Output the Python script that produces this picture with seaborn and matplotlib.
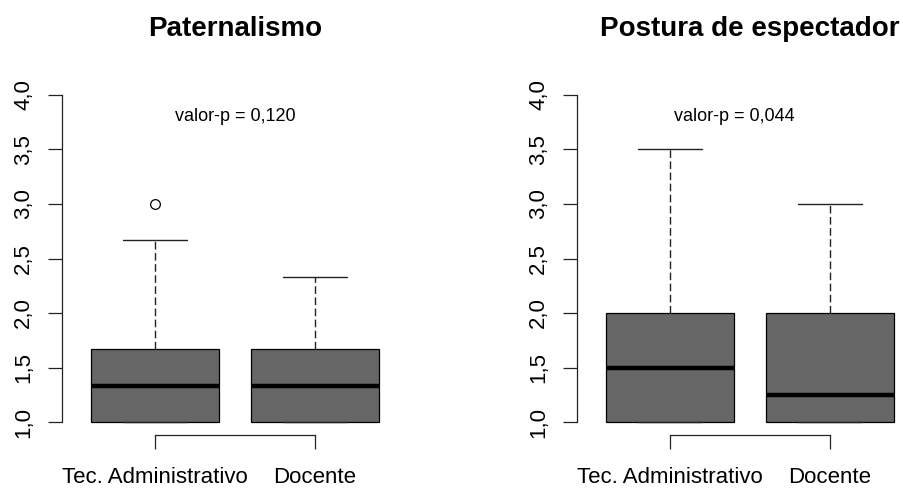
import matplotlib
matplotlib.use('Agg')
import matplotlib.pyplot as plt
import pandas as pd
import seaborn as sns

# grupos comparados
grupos = ['Tec. Administrativo', 'Docente']

# valores (escala 1 a 4)
pat_tec = [1.0, 1.0, 1.0, 1.333, 1.333, 1.667, 1.667, 2.667, 3.0]
pat_doc = [1.0, 1.0, 1.0, 1.333, 1.333, 1.667, 1.667, 2.0, 2.333]
esp_tec = [1.0, 1.0, 1.0, 1.25, 1.5, 1.75, 2.0, 2.5, 3.5]
esp_doc = [1.0, 1.0, 1.0, 1.0, 1.25, 1.5, 2.0, 2.5, 3.0]

titulos = ['Paternalismo', 'Postura de espectador']
pvalores = ['valor-p = 0,120', 'valor-p = 0,044']
pval_x = [0.5, 0.4]
pval_y = 3.8
yticks = [1.0, 1.5, 2.0, 2.5, 3.0, 3.5, 4.0]
ylabels = [f'{v:.1f}'.replace('.', ',') for v in yticks]


def montar(tec, doc):
    return pd.DataFrame({
        'grupo': [grupos[0]] * len(tec) + [grupos[1]] * len(doc),
        'valor': tec + doc,
    })


sns.set_style('white')
plt.rcParams['font.family'] = ['Liberation Sans', 'DejaVu Sans']
plt.rcParams['text.color'] = 'black'

fig = plt.figure(figsize=(9.04, 4.88), dpi=100)
W, H = 904, 488
bottom = 1 - 435.1 / H
height = 353.2 / H
ax1 = fig.add_axes([62 / W, bottom, 346 / W, height])
ax2 = fig.add_axes([577 / W, bottom, 346 / W, height])

dados = [montar(pat_tec, pat_doc), montar(esp_tec, esp_doc)]

for ax, df, tit, pv, px in zip([ax1, ax2], dados, titulos, pvalores, pval_x):
    sns.boxplot(data=df, x='grupo', y='valor', order=grupos, ax=ax,
                color='#666666', saturation=1, linecolor='black',
                linewidth=0.9, width=0.8, whis=1.5, capwidths=0.4,
                medianprops=dict(color='black', linewidth=3.2),
                whiskerprops=dict(color='#222222', linestyle=(0, (5.5, 2.5)),
                                  linewidth=1.0),
                capprops=dict(color='#222222', linewidth=1.0),
                flierprops=dict(marker='o', markerfacecolor='none',
                                markeredgecolor='black', markersize=7,
                                markeredgewidth=0.9))
    ax.set_xlim(-0.58, 1.58)
    ax.set_ylim(0.88, 4.12)
    ax.set_xlabel('')
    ax.set_ylabel('')
    ax.set_yticks(yticks)
    ax.set_yticklabels(ylabels, rotation=90, va='center')
    for s in ['top', 'right']:
        ax.spines[s].set_visible(False)
    ax.spines['left'].set_bounds(1.0, 4.0)
    ax.spines['bottom'].set_bounds(0, 1)
    for s in ['left', 'bottom']:
        ax.spines[s].set_color('#222222')
        ax.spines[s].set_linewidth(0.9)
    ax.tick_params(axis='both', direction='out', length=10, width=0.9,
                   bottom=True, left=True,
                   color='#222222', labelsize=16, labelcolor='black')
    ax.tick_params(axis='y', pad=10)
    ax.tick_params(axis='x', pad=13)
    ax.set_title(tit, fontsize=20, fontweight='bold', pad=33, color='black')
    ax.text(px, pval_y, pv, ha='center', va='center', fontsize=13,
            color='black')

fig.savefig('out.png', dpi=100)
